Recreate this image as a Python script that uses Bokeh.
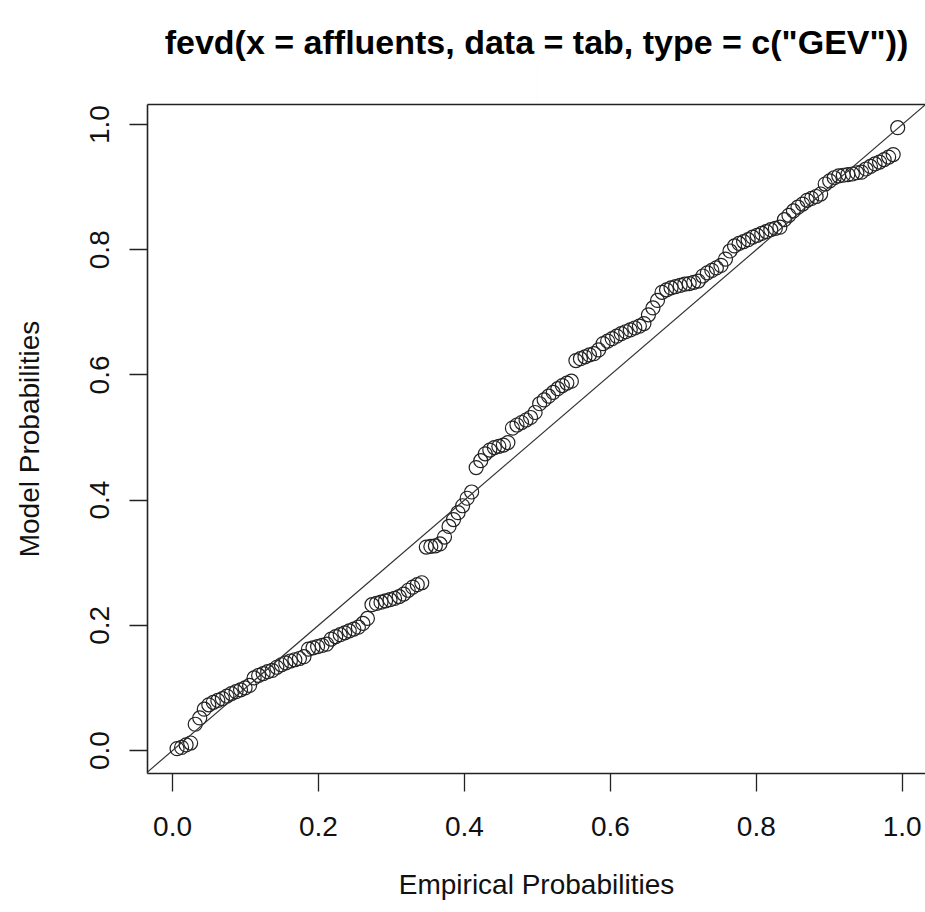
from bokeh.plotting import figure
from bokeh.models import Range1d, LinearAxis, FixedTicker, Slope, Title
from bokeh.embed import file_html
from bokeh.resources import INLINE

# Empirical probabilities (x) and model probabilities (y)
empirical = [
    0.0062, 0.0124, 0.0186, 0.0248, 0.0311, 0.0373, 0.0435, 0.0497, 0.0559, 0.0621,
    0.0683, 0.0745, 0.0807, 0.0870, 0.0932, 0.0994, 0.1056, 0.1118, 0.1180, 0.1242,
    0.1304, 0.1366, 0.1429, 0.1491, 0.1553, 0.1615, 0.1677, 0.1739, 0.1801, 0.1863,
    0.1925, 0.1988, 0.2050, 0.2112, 0.2174, 0.2236, 0.2298, 0.2360, 0.2422, 0.2484,
    0.2547, 0.2609, 0.2671, 0.2733, 0.2795, 0.2857, 0.2919, 0.2981, 0.3043, 0.3106,
    0.3168, 0.3230, 0.3292, 0.3354, 0.3416, 0.3478, 0.3540, 0.3602, 0.3665, 0.3727,
    0.3789, 0.3851, 0.3913, 0.3975, 0.4037, 0.4099, 0.4161, 0.4224, 0.4286, 0.4348,
    0.4410, 0.4472, 0.4534, 0.4596, 0.4658, 0.4720, 0.4783, 0.4845, 0.4907, 0.4969,
    0.5031, 0.5093, 0.5155, 0.5217, 0.5280, 0.5342, 0.5404, 0.5466, 0.5528, 0.5590,
    0.5652, 0.5714, 0.5776, 0.5839, 0.5901, 0.5963, 0.6025, 0.6087, 0.6149, 0.6211,
    0.6273, 0.6335, 0.6398, 0.6460, 0.6522, 0.6584, 0.6646, 0.6708, 0.6770, 0.6832,
    0.6894, 0.6957, 0.7019, 0.7081, 0.7143, 0.7205, 0.7267, 0.7329, 0.7391, 0.7453,
    0.7516, 0.7578, 0.7640, 0.7702, 0.7764, 0.7826, 0.7888, 0.7950, 0.8012, 0.8075,
    0.8137, 0.8199, 0.8261, 0.8323, 0.8385, 0.8447, 0.8509, 0.8571, 0.8634, 0.8696,
    0.8758, 0.8820, 0.8882, 0.8944, 0.9006, 0.9068, 0.9130, 0.9193, 0.9255, 0.9317,
    0.9379, 0.9441, 0.9503, 0.9565, 0.9627, 0.9689, 0.9752, 0.9814, 0.9876, 0.9938,
]
model = [
    0.003, 0.005, 0.009, 0.012, 0.042, 0.052, 0.066, 0.073, 0.077, 0.080,
    0.083, 0.087, 0.091, 0.094, 0.097, 0.100, 0.104, 0.116, 0.120, 0.123,
    0.126, 0.128, 0.133, 0.137, 0.140, 0.143, 0.145, 0.147, 0.150, 0.162,
    0.164, 0.166, 0.168, 0.170, 0.178, 0.182, 0.185, 0.188, 0.191, 0.194,
    0.197, 0.203, 0.211, 0.233, 0.235, 0.237, 0.239, 0.241, 0.243, 0.246,
    0.250, 0.256, 0.261, 0.265, 0.268, 0.325, 0.326, 0.327, 0.330, 0.341,
    0.358, 0.369, 0.380, 0.391, 0.403, 0.413, 0.452, 0.463, 0.474, 0.480,
    0.484, 0.486, 0.488, 0.492, 0.515, 0.520, 0.524, 0.528, 0.532, 0.540,
    0.554, 0.560, 0.566, 0.572, 0.578, 0.583, 0.587, 0.590, 0.623, 0.626,
    0.629, 0.632, 0.634, 0.640, 0.650, 0.654, 0.658, 0.662, 0.666, 0.669,
    0.672, 0.675, 0.678, 0.682, 0.696, 0.707, 0.719, 0.732, 0.736, 0.739,
    0.741, 0.743, 0.745, 0.746, 0.748, 0.750, 0.758, 0.763, 0.767, 0.771,
    0.775, 0.785, 0.798, 0.806, 0.810, 0.813, 0.816, 0.820, 0.823, 0.826,
    0.829, 0.832, 0.834, 0.836, 0.848, 0.855, 0.862, 0.868, 0.873, 0.879,
    0.882, 0.885, 0.889, 0.905, 0.910, 0.915, 0.918, 0.919, 0.920, 0.921,
    0.923, 0.924, 0.929, 0.933, 0.937, 0.940, 0.944, 0.948, 0.952, 0.995,
]
tick_values = [0.0, 0.2, 0.4, 0.6, 0.8, 1.0]
tick_labels = ["0.0", "0.2", "0.4", "0.6", "0.8", "1.0"]
title_text = 'fevd(x = affluents, data = tab, type = c("GEV"))'
x_label = "Empirical Probabilities"
y_label = "Model Probabilities"

FONT = "Liberation Sans"

p = figure(
    width=925, height=912, output_backend="svg", toolbar_location=None,
    x_range=Range1d(-0.0343, 1.0319), y_range=Range1d(-0.0367, 1.032),
    min_border_left=147, min_border_right=0, min_border_top=104, min_border_bottom=139,
    x_axis_label=x_label, y_axis_label=y_label,
)
p.outline_line_color = None
p.grid.visible = False
p.background_fill_color = "white"
p.border_fill_color = "white"

overrides = {v: s for v, s in zip(tick_values, tick_labels)}
for ax in (p.xaxis[0], p.yaxis[0]):
    ax.ticker = FixedTicker(ticks=tick_values)
    ax.major_label_overrides = overrides
    ax.minor_tick_line_color = None
    ax.major_tick_in = 0
    ax.major_tick_out = 18
    ax.major_tick_line_color = "#222222"
    ax.major_tick_line_width = 1.3
    ax.axis_line_color = "#222222"
    ax.axis_line_width = 1.6
    ax.major_label_text_font = FONT
    ax.major_label_text_font_size = "28px"
    ax.major_label_text_color = "#111111"
    ax.axis_label_text_font = FONT
    ax.axis_label_text_font_size = "28px"
    ax.axis_label_text_font_style = "normal"
    ax.axis_label_text_color = "#111111"

p.xaxis[0].major_label_standoff = 25
p.xaxis[0].axis_label_standoff = 30
p.yaxis[0].major_label_orientation = "vertical"
p.yaxis[0].major_label_standoff = 20
p.yaxis[0].axis_label_standoff = 43

# top border of the box; a practically invisible outward tick reserves the gap
# between the frame and the title
top_axis = LinearAxis(ticker=FixedTicker(ticks=[0.5]), axis_line_color="#222222", axis_line_width=1.6,
                      major_tick_line_color="#222222", major_tick_line_alpha=0.01,
                      minor_tick_line_color=None,
                      major_tick_in=0, major_tick_out=39,
                      major_label_standoff=0, axis_label_standoff=0,
                      major_label_overrides={0.5: ""},
                      major_label_text_font_size="0px")
p.add_layout(top_axis, "above")

p.title = Title(text=title_text, align="center", text_font=FONT, text_font_size="34px",
                text_font_style="bold", text_color="#000000", standoff=10)

p.add_layout(Slope(gradient=1, y_intercept=0, line_color="#333333", line_width=1.2))

p.scatter(empirical, model, marker="circle", size=14, fill_color=None,
          line_color="#222222", line_width=1.2)

open("out.html", "w").write(file_html(p, INLINE))
